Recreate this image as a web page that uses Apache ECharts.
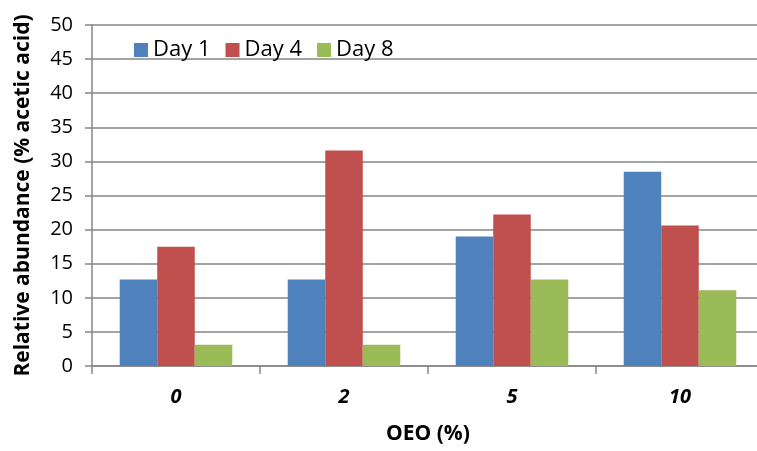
<!DOCTYPE html>
<html><head><meta charset="utf-8">
<script src="https://cdn.jsdelivr.net/npm/echarts@6/dist/echarts.min.js"></script>
<style>html,body{margin:0;padding:0;background:#fff;overflow:hidden}#c{width:757px;height:451px}</style>
</head><body><div id="c"></div>
<script>
const categories = ['0', '2', '5', '10'];
const day1 = [12.7, 12.7, 19.0, 28.5];
const day4 = [17.5, 31.6, 22.2, 20.6];
const day8 = [3.1, 3.1, 12.7, 11.1];
const yTicks = {min: 0, max: 50, interval: 5};

const chart = echarts.init(document.getElementById('c'));
const font = '"Open Sans", sans-serif';
const gray = '#868686';
chart.setOption({
  animation: false,
  textStyle: {fontFamily: font},
  grid: {left: 92, top: 25, bottom: 85, right: -7, containLabel: false, outerBoundsMode: 'none'},
  legend: {
    left: 129, top: 34, itemWidth: 14, itemHeight: 14, itemGap: 15,
    icon: 'rect',
    textStyle: {fontSize: 22, color: '#000', fontFamily: font},
    data: ['Day 1', 'Day 4', 'Day 8']
  },
  xAxis: {
    type: 'category', data: categories,
    name: 'OEO (%)', nameLocation: 'middle', nameGap: 58,
    nameTextStyle: {fontSize: 21, fontWeight: 'bold', color: '#000', fontFamily: font},
    axisLine: {lineStyle: {color: gray, width: 1.5}},
    axisTick: {show: true, length: 8, lineStyle: {color: gray, width: 1.5}},
    axisLabel: {fontSize: 20, fontWeight: 'bold', fontStyle: 'italic', color: '#000', margin: 21, fontFamily: font}
  },
  yAxis: {
    type: 'value', min: yTicks.min, max: yTicks.max, interval: yTicks.interval,
    name: 'Relative abundance (% acetic acid)', nameLocation: 'middle', nameGap: 58,
    nameTextStyle: {fontSize: 21, fontWeight: 'bold', color: '#000', fontFamily: font},
    axisLine: {show: true, lineStyle: {color: gray, width: 1.5}},
    axisTick: {show: true, length: 7, lineStyle: {color: gray, width: 1.5}},
    axisLabel: {fontSize: 20, color: '#000', margin: 19, fontFamily: font},
    splitLine: {lineStyle: {color: gray, width: 1.5}}
  },
  series: [
    {name: 'Day 1', type: 'bar', data: day1, barGap: '0%', barCategoryGap: '33%', itemStyle: {color: '#4F81BD'}},
    {name: 'Day 4', type: 'bar', data: day4, barGap: '0%', barCategoryGap: '33%', itemStyle: {color: '#C0504D'}},
    {name: 'Day 8', type: 'bar', data: day8, barGap: '0%', barCategoryGap: '33%', itemStyle: {color: '#9BBB59'}}
  ]
});
</script></body></html>
